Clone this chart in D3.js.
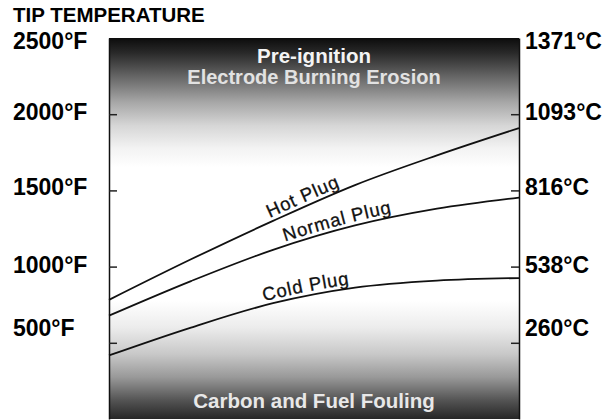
<!DOCTYPE html>
<html>
<head>
<meta charset="utf-8">
<script src="https://cdn.jsdelivr.net/npm/d3@7"></script>
<style>
  body { margin: 0; background: #fff; }
  svg text { font-family: "Liberation Sans", Arial, Helvetica, sans-serif; }
</style>
</head>
<body>
<div id="chart"></div>
<script>
// operating range across the plot (no axis labels in the original)
var load = [0, 20, 40, 60, 80, 100];

// tip temperature (deg F)
var hotPlug    = [782, 1048, 1300, 1535, 1730, 1909];
var normalPlug = [678, 905, 1110, 1270, 1380, 1453];
var coldPlug   = [417, 600, 760, 862, 908, 925];

var plugNames = ["Hot Plug", "Normal Plug", "Cold Plug"];
var fTicks = [2500, 2000, 1500, 1000, 500];
var fLabels = ["2500°F", "2000°F", "1500°F", "1000°F", "500°F"];
var cLabels = ["1371°C", "1093°C", "816°C", "538°C", "260°C"];

var topText = ["Pre-ignition", "Electrode Burning Erosion"];
var bottomText = "Carbon and Fuel Fouling";

// vertical nudge of each side label relative to its tick
var labelNudge = [11, 6, 5, 6, -7];

var W = 612, H = 420;
var margin = {top: 38, right: 93, bottom: 1, left: 109};
var width = W - margin.left - margin.right,
    height = H - margin.top - margin.bottom;

var svg = d3.select("#chart").append("svg")
    .attr("width", W)
    .attr("height", H);

var x = d3.scaleLinear().domain([0, 100]).range([0, width]);
var y = d3.scaleLinear().domain([0, 2500]).range([height, 0]);

// background shading: dark at top and bottom, white in the middle
var grad = svg.append("defs").append("linearGradient")
    .attr("id", "shade")
    .attr("x1", 0).attr("y1", 0).attr("x2", 0).attr("y2", 1);
[[0, "#0c0c0c"], [0.04, "#2a2a2a"], [0.11, "#6e6e6e"], [0.17, "#a8a8a8"],
 [0.23, "#d6d6d6"], [0.29, "#f3f3f3"], [0.34, "#ffffff"], [0.69, "#ffffff"],
 [0.76, "#ececec"], [0.83, "#c8c8c8"], [0.89, "#999999"], [0.95, "#555555"],
 [1, "#262626"]].forEach(function (s) {
    grad.append("stop").attr("offset", s[0]).attr("stop-color", s[1]);
});

var g = svg.append("g")
    .attr("transform", "translate(" + margin.left + "," + margin.top + ")");

g.append("rect")
    .attr("width", width)
    .attr("height", height)
    .attr("fill", "url(#shade)");

// left and right axes with inward ticks
g.append("g")
    .attr("class", "axis")
    .call(d3.axisRight(y).tickValues(fTicks.slice(1)).tickSizeInner(8).tickSizeOuter(0).tickFormat(""));
g.append("g")
    .attr("class", "axis")
    .attr("transform", "translate(" + width + ",0)")
    .call(d3.axisLeft(y).tickValues(fTicks.slice(1)).tickSizeInner(8).tickSizeOuter(0).tickFormat(""));
g.selectAll(".axis path").attr("stroke", "#111").attr("stroke-width", 1.5);
g.selectAll(".axis line").attr("stroke", "#222").attr("stroke-width", 1.5);

// plug curves
var line = d3.line()
    .x(function (d) { return x(d[0]); })
    .y(function (d) { return y(d[1]); })
    .curve(d3.curveCatmullRom);

var series = [hotPlug, normalPlug, coldPlug];
var labelStart = ["40.5%", "44.5%", "39%"];
series.forEach(function (s, i) {
    var pts = load.map(function (l, j) { return [l, s[j]]; });
    g.append("path")
        .attr("id", "plug" + i)
        .attr("d", line(pts))
        .attr("fill", "none")
        .attr("stroke", "#111")
        .attr("stroke-width", 1.8);
    g.append("text")
        .attr("dy", -4)
        .attr("font-size", 18.5)
        .attr("letter-spacing", 0.8)
        .attr("fill", "#111")
        .attr("stroke", "#111")
        .attr("stroke-width", 0.3)
        .append("textPath")
        .attr("href", "#plug" + i)
        .attr("startOffset", labelStart[i])
        .text(plugNames[i]);
});

// zone labels inside the plot
g.append("text")
    .attr("x", width / 2).attr("y", 25)
    .attr("text-anchor", "middle")
    .attr("font-size", 20.5).attr("font-weight", "bold")
    .attr("fill", "#f4f4f4")
    .text(topText[0]);
g.append("text")
    .attr("x", width / 2).attr("y", 46)
    .attr("text-anchor", "middle")
    .attr("font-size", 20).attr("font-weight", "bold")
    .attr("fill", "#e2e2e2")
    .text(topText[1]);
g.append("text")
    .attr("x", width / 2).attr("y", height - 11)
    .attr("text-anchor", "middle")
    .attr("font-size", 20.5).attr("font-weight", "bold")
    .attr("fill", "#e8e8e8")
    .text(bottomText);

// title and side labels
svg.append("text")
    .attr("x", 13).attr("y", 22)
    .attr("font-size", 20.5).attr("font-weight", "bold")
    .attr("fill", "#000")
    .text("TIP TEMPERATURE");

fTicks.forEach(function (t, i) {
    svg.append("text")
        .attr("x", 13)
        .attr("y", margin.top + y(t) + labelNudge[i])
        .attr("font-size", 23).attr("font-weight", "bold")
        .attr("fill", "#000")
        .text(fLabels[i]);
    svg.append("text")
        .attr("x", margin.left + width + 6)
        .attr("y", margin.top + y(t) + labelNudge[i])
        .attr("font-size", 23).attr("font-weight", "bold")
        .attr("fill", "#000")
        .text(cLabels[i]);
});
</script>
</body>
</html>
